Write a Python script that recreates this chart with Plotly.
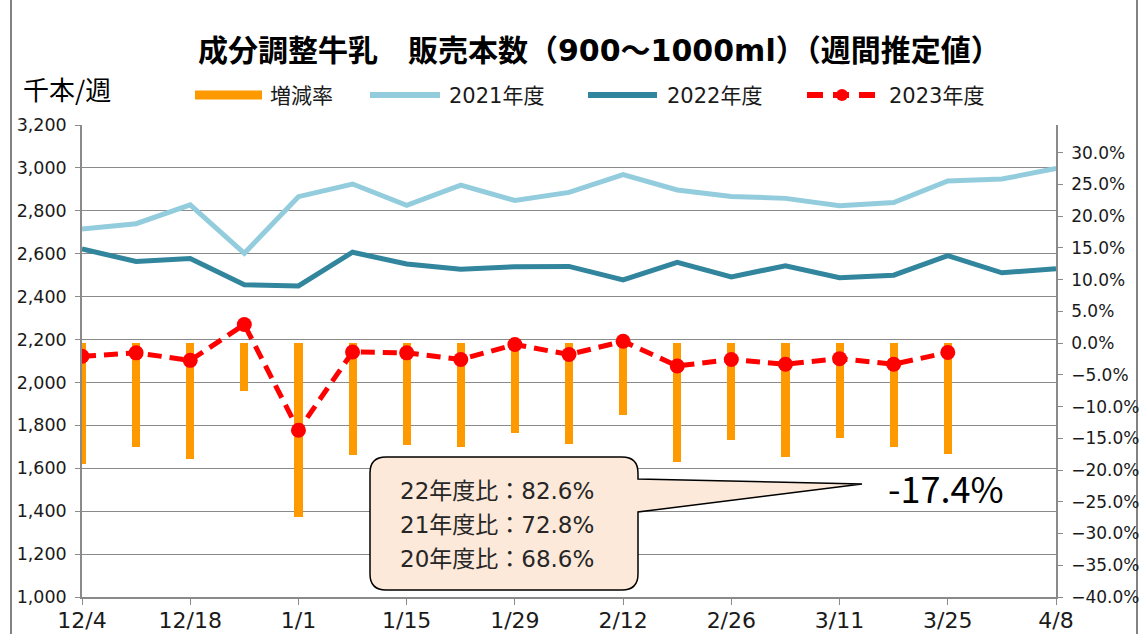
import plotly.graph_objects as go

# ---------------- data ----------------
weeks = ["12/4", "12/11", "12/18", "12/25", "1/1", "1/8", "1/15", "1/22", "1/29", "2/5",
         "2/12", "2/19", "2/26", "3/5", "3/11", "3/18", "3/25", "4/1", "4/8"]
tick_weeks = ["12/4", "12/18", "1/1", "1/15", "1/29", "2/12", "2/26", "3/11", "3/25", "4/8"]

sales_2021 = [2715, 2740, 2828, 2602, 2866, 2925, 2826, 2920, 2848, 2886,
              2969, 2897, 2867, 2858, 2824, 2839, 2939, 2948, 2997]
sales_2022 = [2622, 2564, 2578, 2455, 2450, 2607, 2552, 2528, 2539, 2541,
              2478, 2560, 2492, 2544, 2488, 2500, 2591, 2511, 2530]
sales_2023 = [2122, 2138, 2103, 2270, 1777, 2142, 2138, 2107, 2177, 2130,
              2192, 2077, 2107, 2085, 2111, 2085, 2140]
change_rate = [-19.0, -16.4, -18.2, -7.5, -27.4, -17.7, -16.0, -16.4, -14.2, -15.9,
               -11.4, -18.8, -15.3, -17.9, -14.9, -16.4, -17.4]

title_text = "成分調整牛乳　販売本数（900～1000ml）（週間推定値）"
unit_text = "千本/週"
legend_names = ["増減率", "2021年度", "2022年度", "2023年度"]
callout_lines = ["22年度比：82.6%", "21年度比：72.8%", "20年度比：68.6%"]
last_change_text = "-17.4%"

# ---------------- style ----------------
C_BAR = "#FF9900"
C_21 = "#93CDDD"
C_22 = "#31859C"
C_23 = "#FF0000"
GRID = "#8A8A8A"
JP = "Noto Sans CJK JP"
MIX = "DejaVu Sans, Noto Sans CJK JP"
NUM = "DejaVu Sans"

W, H = 1148, 634
PL, PR, PT, PB = 82, 1056, 125, 597


def px(x):
    return (x - PL) / (PR - PL)


def py(y):
    return (PB - y) / (PB - PT)


fig = go.Figure()

fig.add_trace(go.Bar(x=weeks[:len(change_rate)], y=change_rate, yaxis="y", width=0.15,
                     marker=dict(color=C_BAR, line=dict(width=0)), name=legend_names[0]))
fig.add_trace(go.Scatter(x=weeks, y=sales_2021, yaxis="y2", mode="lines",
                         line=dict(color=C_21, width=5), name=legend_names[1]))
fig.add_trace(go.Scatter(x=weeks, y=sales_2022, yaxis="y2", mode="lines",
                         line=dict(color=C_22, width=5), name=legend_names[2]))
fig.add_trace(go.Scatter(x=weeks[:len(sales_2023)], y=sales_2023, yaxis="y2", mode="lines+markers",
                         line=dict(color=C_23, width=5, dash="14px,8px"),
                         marker=dict(color=C_23, size=15, symbol="circle"), name=legend_names[3]))

shapes = []
annotations = []

# outer frame
shapes.append(dict(type="rect", xref="paper", yref="paper", x0=px(11), x1=px(1137), y0=py(660), y1=py(-10),
                   line=dict(color="#595959", width=1.5), fillcolor="rgba(0,0,0,0)", layer="below"))

# callout bubble
L, R, T, B, r = 370, 638, 457, 590, 16
pts = [("M", L + r, T), ("L", R - r, T), ("Q", R, T, R, T + r), ("L", R, 479), ("L", 862, 484),
       ("L", R, 512), ("L", R, B - r), ("Q", R, B, R - r, B), ("L", L + r, B), ("Q", L, B, L, B - r),
       ("L", L, T + r), ("Q", L, T, L + r, T)]
path = ""
for p in pts:
    cmd = p[0]
    coords = p[1:]
    seg = []
    for i in range(0, len(coords), 2):
        seg.append(f"{px(coords[i]):.5f},{py(coords[i + 1]):.5f}")
    path += cmd + " ".join(seg) + " "
path += "Z"
shapes.append(dict(type="path", xref="paper", yref="paper", path=path,
                   fillcolor="#FDE9D9", line=dict(color="#000000", width=1.5), layer="above"))
for i, t in enumerate(callout_lines):
    annotations.append(dict(text=t, xref="paper", yref="paper", x=px(398), y=py(491 + 34 * i),
                            xanchor="left", yanchor="middle", showarrow=False,
                            font=dict(family=MIX, size=23, color="#262626")))
annotations.append(dict(text=last_change_text, xref="paper", yref="paper", x=px(946), y=py(487),
                        xanchor="center", yanchor="middle", showarrow=False,
                        font=dict(family=JP, size=36, color="#000000")))

# title and unit
annotations.append(dict(text="<b>" + title_text + "</b>", xref="paper", yref="paper", x=px(599), y=py(50),
                        xanchor="center", yanchor="middle", showarrow=False,
                        font=dict(family=MIX, size=30, color="#000000")))
annotations.append(dict(text=unit_text, xref="paper", yref="paper", x=px(21), y=py(88),
                        xanchor="left", yanchor="middle", showarrow=False,
                        font=dict(family=JP, size=26, color="#000000")))

# manual legend
LY = 95
shapes.append(dict(type="rect", xref="paper", yref="paper", x0=px(195), x1=px(262), y0=py(LY + 4.5),
                   y1=py(LY - 4.5), fillcolor=C_BAR, line=dict(width=0)))
shapes.append(dict(type="line", xref="paper", yref="paper", x0=px(370), x1=px(440), y0=py(LY), y1=py(LY),
                   line=dict(color=C_21, width=6)))
shapes.append(dict(type="line", xref="paper", yref="paper", x0=px(588), x1=px(657), y0=py(LY), y1=py(LY),
                   line=dict(color=C_22, width=6)))
shapes.append(dict(type="line", xref="paper", yref="paper", x0=px(807), x1=px(880), y0=py(LY), y1=py(LY),
                   line=dict(color=C_23, width=6, dash="16px,10px")))
shapes.append(dict(type="circle", xref="paper", yref="paper", x0=px(836), x1=px(848), y0=py(LY + 6),
                   y1=py(LY - 6), fillcolor=C_23, line=dict(width=0)))
leg_x = [268, 447, 665, 887]
for name, lx in zip(legend_names, leg_x):
    annotations.append(dict(text=name, xref="paper", yref="paper", x=px(lx), y=py(LY + 1),
                            xanchor="left", yanchor="middle", showarrow=False,
                            font=dict(family=MIX, size=21, color="#1a1a1a")))

fig.update_layout(
    width=W, height=H,
    margin=dict(l=PL, r=W - PR, t=PT, b=H - PB, pad=0),
    paper_bgcolor="white", plot_bgcolor="white",
    showlegend=False,
    bargap=0,
    xaxis=dict(type="category", categoryorder="array", categoryarray=weeks, range=[0, len(weeks) - 1],
               tickmode="array", tickvals=tick_weeks, ticktext=tick_weeks, automargin=False,
               ticks="outside", ticklen=6, tickcolor=GRID, tickwidth=1.3, ticklabelstandoff=-3,
               showline=True, linecolor=GRID, linewidth=1.5, showgrid=False,
               tickfont=dict(family=NUM, size=22, color="#1a1a1a")),
    yaxis=dict(side="right", range=[-40, 34.37], tick0=-40, dtick=5, tickformat=".1f", ticksuffix="%",
               ticks="outside", ticklen=5, tickcolor=GRID, tickwidth=1.3, showgrid=False, zeroline=False,
               showline=True, linecolor=GRID, linewidth=1.5, ticklabelstandoff=5, automargin=False,
               tickfont=dict(family=NUM, size=17, color="#1a1a1a")),
    yaxis2=dict(side="left", overlaying="y", range=[1000, 3200], tick0=1000, dtick=200, tickformat=",d",
                ticks="outside", ticklen=5, tickcolor=GRID, tickwidth=1.3, automargin=False,
                showgrid=True, gridcolor=GRID, gridwidth=1.3, zeroline=False,
                showline=True, linecolor=GRID, linewidth=1.5, ticklabelstandoff=5,
                tickfont=dict(family=NUM, size=17.5, color="#1a1a1a")),
    shapes=shapes,
    annotations=annotations,
)

fig.write_html("out.html", config={"displayModeBar": False},
               post_script="document.body.style.margin='0';document.body.style.padding='0';")
